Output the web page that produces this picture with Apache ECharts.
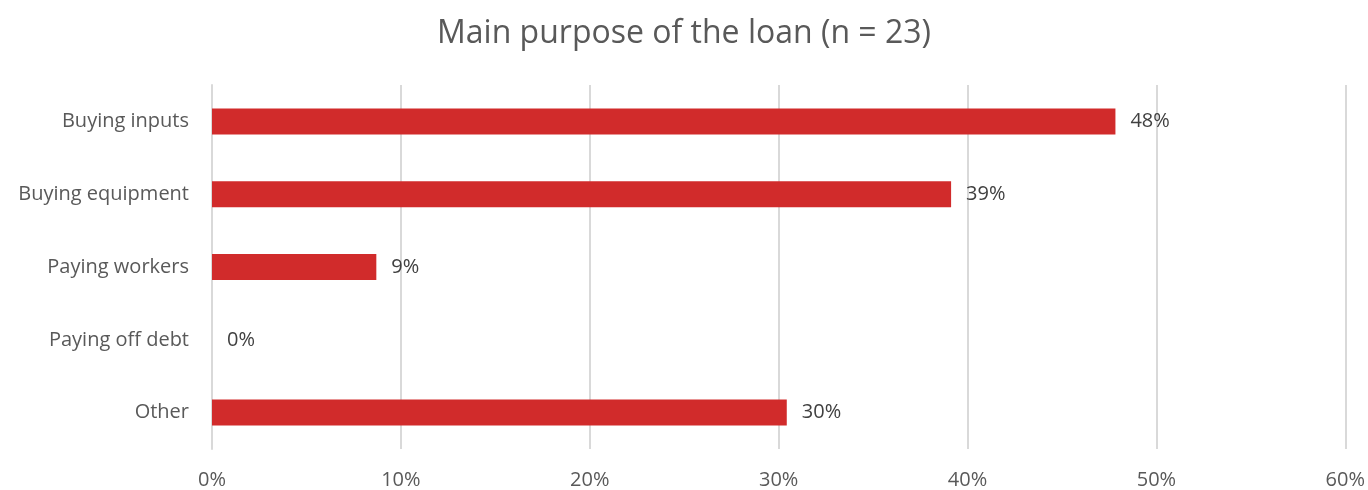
<!DOCTYPE html>
<html><head><meta charset="utf-8">
<script src="https://cdn.jsdelivr.net/npm/echarts@6/dist/echarts.min.js"></script>
<style>html,body{margin:0;padding:0;background:#fff}#c{width:1368px;height:490px}</style>
</head><body><div id="c"></div>
<script>
const categories = ["Buying inputs", "Buying equipment", "Paying workers", "Paying off debt", "Other"];
const values = [47.83, 39.13, 8.70, 0, 30.43];
const labels = ["48%", "39%", "9%", "0%", "30%"];
const xTicks = [0, 10, 20, 30, 40, 50, 60];

const chart = echarts.init(document.getElementById('c'));
const font = "'Open Sans', 'Noto Sans', sans-serif";
chart.setOption({
  animation: false,
  title: {
    text: "Main purpose of the loan (n = 23)",
    left: 'center', top: 13,
    textStyle: {fontFamily: font, fontSize: 32, fontWeight: 'normal', color: '#595959'}
  },
  grid: {left: 212, right: 22, top: 85, bottom: 40, containLabel: false},
  xAxis: {
    type: 'value', min: xTicks[0], max: xTicks[xTicks.length - 1], interval: 10,
    axisLine: {show: false}, axisTick: {show: false},
    splitLine: {lineStyle: {color: '#d9d9d9', width: 2}},
    axisLabel: {formatter: v => v + '%', fontFamily: font, fontSize: 20, color: '#595959', margin: 21}
  },
  yAxis: {
    type: 'category', data: categories, inverse: true,
    axisLine: {show: true, lineStyle: {color: '#d9d9d9', width: 2}},
    axisTick: {show: false},
    axisLabel: {fontFamily: font, fontSize: 20, color: '#595959', margin: 23}
  },
  series: [{
    type: 'bar', data: values, barWidth: 26,
    itemStyle: {color: '#D12B2B'},
    label: {show: true, position: 'right', distance: 15, fontFamily: font, fontSize: 20, color: '#404040',
      formatter: p => labels[p.dataIndex]}
  }]
});
</script></body></html>
